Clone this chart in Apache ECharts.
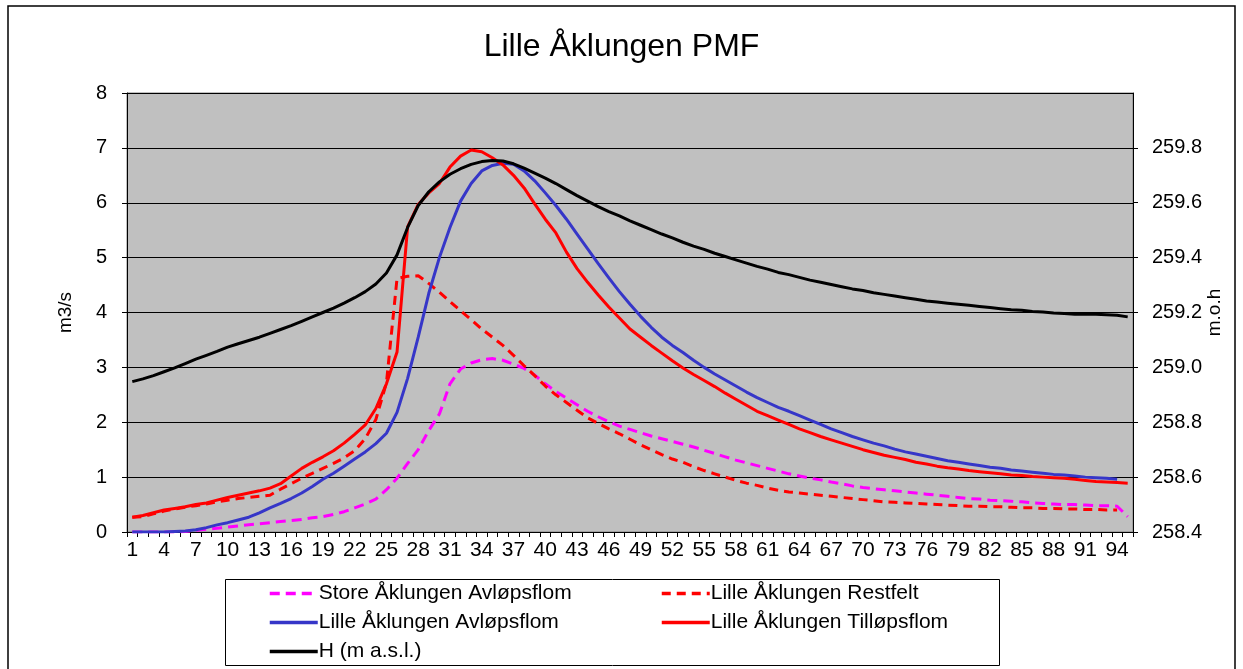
<!DOCTYPE html>
<html>
<head>
<meta charset="utf-8">
<script src="https://cdn.jsdelivr.net/npm/echarts@6/dist/echarts.min.js"></script>
<style>
html,body{margin:0;padding:0;background:#fff;}
#c{width:1243px;height:669px;}
</style>
</head>
<body>
<div id="c"></div>
<script>
// Categories (time steps)
const categories = Array.from({length: 95}, (_, i) => String(i + 1));

// Store Åklungen Avløpsflom (m3/s)
const storeAvlop = [
0.00,0.00,0.00,0.00,0.00,0.01,0.03,0.05,0.07,0.09,
0.11,0.13,0.15,0.17,0.19,0.21,0.23,0.26,0.28,0.32,
0.37,0.44,0.51,0.60,0.77,0.98,1.25,1.50,1.85,2.15,
2.70,2.97,3.08,3.14,3.16,3.13,3.06,2.98,2.86,2.70,
2.56,2.44,2.32,2.20,2.10,2.01,1.93,1.87,1.81,1.75,
1.70,1.65,1.60,1.55,1.49,1.43,1.37,1.31,1.26,1.21,
1.16,1.11,1.06,1.02,0.98,0.95,0.91,0.88,0.84,0.81,
0.79,0.77,0.75,0.73,0.71,0.69,0.67,0.65,0.63,0.61,
0.60,0.58,0.57,0.56,0.55,0.53,0.52,0.51,0.50,0.50,
0.49,0.48,0.48,0.47,0.28];

// Lille Åklungen Restfelt (m3/s)
const lilleRestfelt = [
0.27,0.28,0.33,0.38,0.42,0.45,0.48,0.51,0.55,0.58,
0.61,0.63,0.65,0.67,0.78,0.88,0.98,1.07,1.16,1.25,
1.35,1.48,1.70,2.05,2.72,4.62,4.66,4.67,4.53,4.37,
4.20,4.03,3.87,3.70,3.55,3.40,3.22,3.03,2.85,2.66,
2.50,2.36,2.22,2.08,1.98,1.88,1.79,1.69,1.59,1.50,
1.41,1.33,1.27,1.19,1.12,1.06,1.00,0.94,0.89,0.85,
0.80,0.76,0.73,0.71,0.69,0.67,0.65,0.63,0.61,0.59,
0.57,0.55,0.54,0.53,0.52,0.51,0.50,0.49,0.48,0.47,
0.47,0.46,0.46,0.45,0.44,0.44,0.43,0.43,0.42,0.42,
0.41,0.41,0.40,0.40];

// Lille Åklungen Avløpsflom (m3/s)
const lilleAvlop = [
0.00,0.00,0.00,0.00,0.01,0.02,0.04,0.08,0.13,0.17,
0.22,0.27,0.35,0.44,0.52,0.61,0.71,0.83,0.96,1.07,
1.20,1.33,1.46,1.61,1.80,2.18,2.80,3.55,4.35,5.00,
5.55,6.03,6.35,6.58,6.68,6.72,6.70,6.58,6.40,6.18,
5.95,5.70,5.43,5.16,4.89,4.63,4.38,4.15,3.93,3.73,
3.55,3.40,3.27,3.13,3.00,2.88,2.77,2.66,2.55,2.45,
2.36,2.27,2.20,2.12,2.04,1.96,1.88,1.81,1.74,1.68,
1.62,1.57,1.51,1.46,1.42,1.38,1.34,1.30,1.27,1.24,
1.21,1.18,1.16,1.13,1.11,1.09,1.07,1.05,1.04,1.02,
1.00,0.99,0.98,0.96];

// Lille Åklungen Tilløpsflom (m3/s)
const lilleTillop = [
0.27,0.30,0.35,0.40,0.43,0.46,0.50,0.53,0.58,0.63,
0.67,0.71,0.75,0.80,0.88,1.02,1.16,1.27,1.37,1.48,
1.62,1.78,1.95,2.25,2.70,3.28,5.56,5.97,6.18,6.35,
6.65,6.85,6.96,6.93,6.82,6.69,6.50,6.27,5.98,5.70,
5.45,5.10,4.80,4.55,4.32,4.10,3.90,3.70,3.55,3.40,
3.26,3.12,2.99,2.87,2.76,2.65,2.53,2.42,2.31,2.20,
2.12,2.04,1.96,1.88,1.81,1.74,1.68,1.62,1.56,1.50,
1.45,1.40,1.36,1.32,1.27,1.24,1.20,1.17,1.15,1.12,
1.10,1.08,1.06,1.04,1.03,1.01,1.00,0.99,0.98,0.96,
0.94,0.92,0.91,0.90,0.89];

// H (m a.s.l.) - right axis
const waterLevel = [
258.948,258.958,258.970,258.984,258.998,259.014,259.030,259.044,259.058,259.074,
259.086,259.098,259.110,259.124,259.138,259.152,259.168,259.184,259.200,259.216,
259.234,259.254,259.276,259.304,259.344,259.410,259.510,259.590,259.640,259.676,
259.704,259.724,259.740,259.750,259.754,259.752,259.742,259.726,259.708,259.690,
259.670,259.648,259.626,259.606,259.586,259.568,259.552,259.534,259.518,259.502,
259.486,259.472,259.456,259.442,259.430,259.416,259.404,259.392,259.380,259.368,
259.358,259.346,259.338,259.328,259.318,259.310,259.302,259.294,259.286,259.280,
259.272,259.266,259.260,259.254,259.248,259.242,259.238,259.234,259.230,259.226,
259.222,259.218,259.214,259.210,259.208,259.204,259.202,259.198,259.196,259.194,
259.194,259.194,259.192,259.190,259.184];

const names = {
  store: 'Store Åklungen Avløpsflom',
  rest: 'Lille Åklungen Restfelt',
  avlop: 'Lille Åklungen Avløpsflom',
  till: 'Lille Åklungen Tilløpsflom',
  h: 'H (m a.s.l.)'
};

const FONT = "'Liberation Sans', Arial, sans-serif";
const chart = echarts.init(document.getElementById('c'), null, {renderer: 'canvas'});

const legendCommon = {
  orient: 'vertical',
  top: 583,
  padding: 0,
  itemWidth: 48,
  itemHeight: 14,
  itemGap: 8,
  itemStyle: {opacity: 0},
  lineStyle: {width: 3.5},
  textStyle: {fontFamily: FONT, fontSize: 21, color: '#000', lineHeight: 20, padding: [0,0,0,-4]}
};

chart.setOption({
  animation: false,
  backgroundColor: '#fff',
  title: {
    text: 'Lille Åklungen PMF',
    left: 'center',
    top: 26,
    textStyle: {fontFamily: FONT, fontSize: 32, fontWeight: 'normal', color: '#000'}
  },
  graphic: [
    {type: 'rect', shape: {x: 8, y: 6, width: 1227, height: 700}, style: {fill: 'none', stroke: '#000', lineWidth: 1.5}, z: 100, silent: true},
    {type: 'rect', shape: {x: 225.5, y: 579.5, width: 774, height: 86}, style: {fill: '#fff', stroke: '#000', lineWidth: 1}, z: 0, silent: true}
  ],
  legend: [
    Object.assign({left: 268, data: [names.store, names.avlop, names.h]}, legendCommon),
    Object.assign({left: 660, data: [names.rest, names.till]}, legendCommon)
  ],
  grid: {
    left: 127, right: 110, top: 93, bottom: 137,
    show: true, backgroundColor: '#c0c0c0', borderColor: '#808080', borderWidth: 1,
    containLabel: false
  },
  xAxis: {
    type: 'category',
    data: categories,
    boundaryGap: true,
    axisLine: {lineStyle: {color: '#000', width: 1}},
    axisTick: {show: true, interval: 0, length: 5, lineStyle: {color: '#000'}},
    axisLabel: {interval: 2, margin: 8, fontFamily: FONT, fontSize: 21, color: '#000'},
    splitLine: {show: false}
  },
  yAxis: [
    {
      type: 'value', min: 0, max: 8, interval: 1,
      name: 'm3/s', nameLocation: 'middle', nameGap: 52,
      nameTextStyle: {fontFamily: FONT, fontSize: 19, color: '#000'},
      axisLine: {show: true, lineStyle: {color: '#000'}},
      axisTick: {show: true, length: 5, lineStyle: {color: '#000'}},
      axisLabel: {margin: 20, fontFamily: FONT, fontSize: 20, color: '#000'},
      splitLine: {show: true, lineStyle: {color: '#000', width: 1}}
    },
    {
      type: 'value', min: 258.4, max: 260.0, interval: 0.2,
      position: 'right',
      name: 'm.o.h', nameLocation: 'middle', nameGap: 72, nameMoveOverlap: false,
      nameTextStyle: {fontFamily: FONT, fontSize: 19, color: '#000'},
      axisLine: {show: true, lineStyle: {color: '#000'}},
      axisTick: {show: true, length: 5, lineStyle: {color: '#000'}},
      axisLabel: {margin: 19, fontFamily: FONT, fontSize: 20, color: '#000', showMaxLabel: false,
        formatter: v => v.toFixed(1)},
      splitLine: {show: false}
    }
  ],
  series: [
    {name: names.store, type: 'line', data: storeAvlop, symbol: 'none', yAxisIndex: 0,
      itemStyle: {color: '#ff00ff'}, lineStyle: {color: '#ff00ff', width: 3, type: [10, 6]}},
    {name: names.rest, type: 'line', data: lilleRestfelt, symbol: 'none', yAxisIndex: 0,
      itemStyle: {color: '#ff0000'}, lineStyle: {color: '#ff0000', width: 3, type: [9, 6]}},
    {name: names.avlop, type: 'line', data: lilleAvlop, symbol: 'none', yAxisIndex: 0,
      itemStyle: {color: '#3636c8'}, lineStyle: {color: '#3636c8', width: 3}},
    {name: names.till, type: 'line', data: lilleTillop, symbol: 'none', yAxisIndex: 0,
      itemStyle: {color: '#ff0000'}, lineStyle: {color: '#ff0000', width: 3}},
    {name: names.h, type: 'line', data: waterLevel, symbol: 'none', yAxisIndex: 1,
      itemStyle: {color: '#000'}, lineStyle: {color: '#000', width: 3}}
  ]
});
</script>
</body>
</html>
